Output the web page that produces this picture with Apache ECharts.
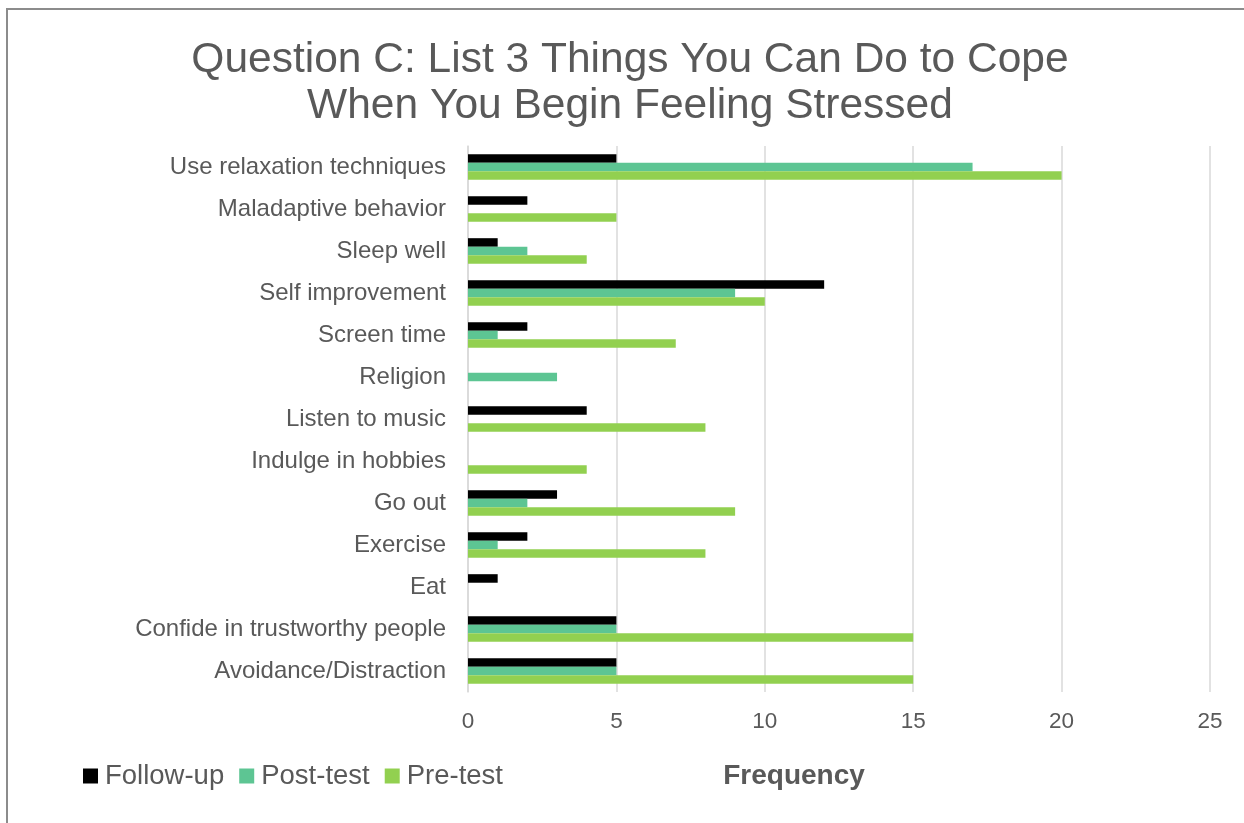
<!DOCTYPE html>
<html>
<head>
<meta charset="utf-8">
<title>Question C: List 3 Things You Can Do to Cope When You Begin Feeling Stressed</title>
<script src="https://cdn.jsdelivr.net/npm/echarts@6/dist/echarts.min.js"></script>
<style>
  html, body { margin: 0; padding: 0; background: #fff; }
  #chart { width: 1244px; height: 823px; }
</style>
</head>
<body>
<div id="chart"></div>
<script>
// Responses, listed bottom to top on the category axis
const categories = [
  'Avoidance/Distraction',
  'Confide in trustworthy people',
  'Eat',
  'Exercise',
  'Go out',
  'Indulge in hobbies',
  'Listen to music',
  'Religion',
  'Screen time',
  'Self improvement',
  'Sleep well',
  'Maladaptive behavior',
  'Use relaxation techniques'
];
const followUp = [5, 5, 1, 2, 3, 0, 4, 0, 2, 12, 1, 2, 5];
const postTest = [5, 5, 0, 1, 2, 0, 0, 3, 1, 9, 2, 0, 17];
const preTest  = [15, 15, 0, 8, 9, 4, 8, 0, 7, 10, 4, 5, 20];
const xTicks = [0, 5, 10, 15, 20, 25];

const FONT = '"Liberation Sans", Arial, sans-serif';
const TEXT = '#595959';

const chart = echarts.init(document.getElementById('chart'), null, { renderer: 'canvas' });

function barSeries(name, data, color) {
  return {
    name: name,
    type: 'bar',
    data: data.map(v => (v === 0 ? null : v)),
    itemStyle: { color: color },
    barGap: '0%',
    barCategoryGap: '39%',
    emphasis: { disabled: true }
  };
}

chart.setOption({
  animation: false,
  backgroundColor: '#ffffff',
  title: {
    text: 'Question C: List 3 Things You Can Do to Cope\nWhen You Begin Feeling Stressed',
    left: 625,
    top: 32,
    textAlign: 'center',
    textStyle: {
      fontFamily: FONT,
      fontSize: 42.5,
      fontWeight: 'normal',
      color: TEXT,
      lineHeight: 46
    }
  },
  legend: {
    left: 78,
    top: 757,
    itemWidth: 15,
    itemHeight: 15,
    itemGap: 15,
    icon: 'rect',
    data: ['Follow-up', 'Post-test', 'Pre-test'],
    textStyle: { fontFamily: FONT, fontSize: 27.5, color: TEXT, padding: [0, 0, 0, 2] }
  },
  grid: { left: 468, right: 34, top: 146, bottom: 131, containLabel: false },
  xAxis: {
    type: 'value',
    min: xTicks[0],
    max: xTicks[xTicks.length - 1],
    interval: 5,
    axisLine: { show: false },
    axisTick: { show: false },
    splitLine: { show: true, lineStyle: { color: '#D9D9D9', width: 1.5 } },
    axisLabel: { fontFamily: FONT, fontSize: 22.5, color: TEXT, margin: 18 }
  },
  yAxis: {
    type: 'category',
    data: categories,
    axisLine: { show: true, lineStyle: { color: '#D9D9D9', width: 1.5 } },
    axisTick: { show: false },
    axisLabel: { fontFamily: FONT, fontSize: 24, color: TEXT, margin: 22 }
  },
  graphic: [
    {
      type: 'rect',
      shape: { x: 7, y: 9, width: 1250, height: 900 },
      style: { fill: 'none', stroke: '#8C8C8C', lineWidth: 2 },
      silent: true
    },
    {
      type: 'text',
      x: 794,
      y: 776,
      style: {
        text: 'Frequency',
        fontFamily: FONT,
        fontSize: 28,
        fontWeight: 'bold',
        fill: TEXT,
        align: 'center',
        verticalAlign: 'middle'
      },
      silent: true
    }
  ],
  series: [
    barSeries('Follow-up', followUp, '#000000'),
    barSeries('Post-test', postTest, '#5DC593'),
    barSeries('Pre-test', preTest, '#92D050')
  ]
});
</script>
</body>
</html>
